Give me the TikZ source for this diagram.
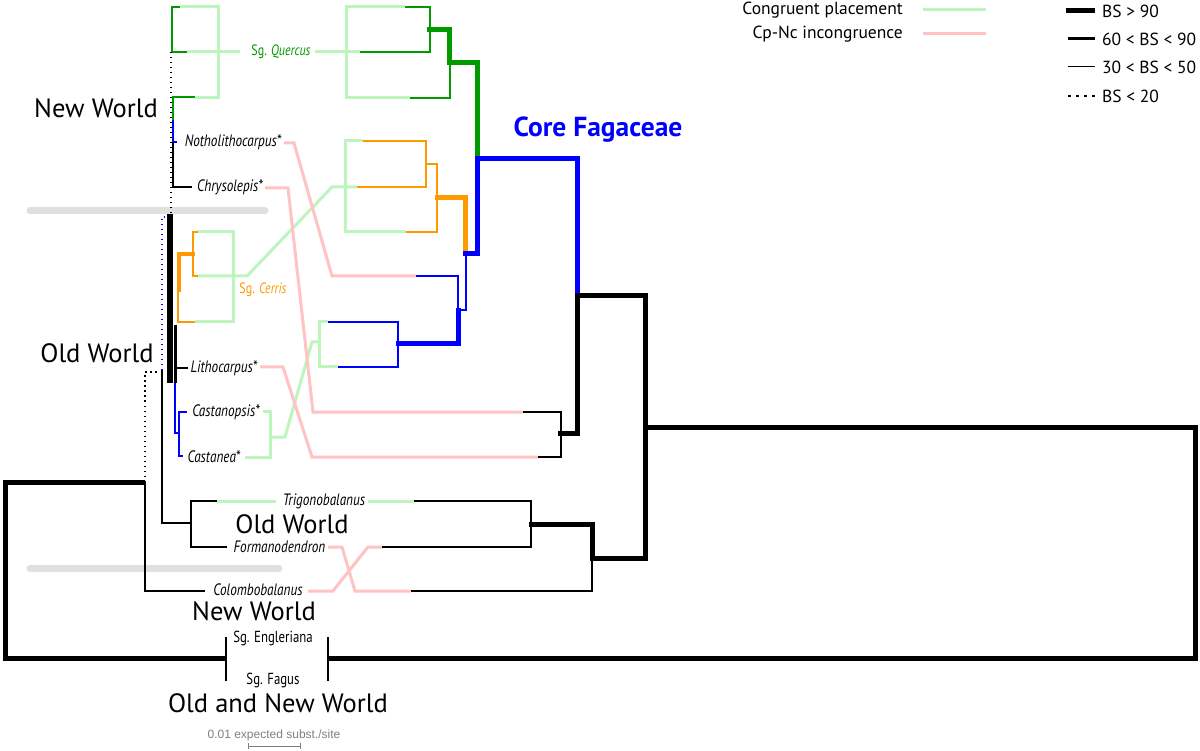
\documentclass[tikz,border=0pt]{standalone}
\usepackage{fontspec}
\setmainfont{PT Sans}
\newfontfamily\cond[FakeStretch=0.8]{PT Sans}
\newfontfamily\arialf{Liberation Sans}
\definecolor{lgreen}{RGB}{190,245,190}
\definecolor{lpink}{RGB}{255,195,195}
\definecolor{dgreen}{RGB}{0,153,0}
\definecolor{orng}{RGB}{255,153,0}
\definecolor{barg}{RGB}{224,224,224}
\begin{document}
\begin{tikzpicture}[x=1pt,y=-1pt,
  lg/.style={lgreen,line width=3},
  pk/.style={lpink,line width=3},
  thn/.style={line width=1.3},
  thk/.style={line width=5},
  bsdot/.style={line width=1.5,dash pattern=on 1.5pt off 3.5pt},
  tax/.style={font=\cond\itshape\fontsize{16.5}{16.5}\selectfont,inner sep=0},
  sg/.style={font=\cond\fontsize{16}{16}\selectfont,inner sep=0},
  sgc/.style={font=\cond\fontsize{15}{15}\selectfont,inner sep=0},
  region/.style={font=\fontsize{26.5}{26.5}\selectfont,inner sep=0},
  leg/.style={font=\fontsize{17.5}{18}\selectfont,inner sep=0}]
\useasboundingbox (0,0) rectangle (1200,751);
\fill[white] (0,0) rectangle (1200,751);

% grey bars
\draw[barg,line width=7,line cap=round] (30,211) -- (265,211);
\draw[barg,line width=7,line cap=round] (30,568) -- (279,568);

% ---------- congruent (green) links ----------
\draw[lg] (180,7) -- (218,7) -- (218,98) -- (195,98);
\draw[lg] (187,52) -- (240,52);
\draw[lg] (315,52) -- (360,52);
\draw[lg] (405,7) -- (346,7) -- (346,98) -- (410,98);
\draw[lg] (197,232) -- (233,232) -- (233,322) -- (195,322);
\draw[lg] (197,276) -- (247,276) -- (332,187) -- (357,187);
\draw[lg] (363,141) -- (345,141) -- (345,232) -- (406,232);
\draw[lg] (263,411) -- (270,411) -- (270,457) -- (245,457);
\draw[lg] (270,437) -- (285,437) -- (312,342) -- (319,342);
\draw[lg] (328,322) -- (319,322) -- (319,367) -- (338,367);
\draw[lg] (217,501) -- (276,501);
\draw[lg] (368,501) -- (414,501);

% ---------- incongruent (pink) links ----------
\draw[pk] (284,143) -- (294,143) -- (332,276) -- (416,276);
\draw[pk] (265,188) -- (288,188) -- (313,412) -- (523,412);
\draw[pk] (260,367) -- (283,367) -- (312,457) -- (538,457);
\draw[pk] (328,547) -- (342,547) -- (355,591) -- (411,591);
\draw[pk] (308,591) -- (333,591) -- (368,547) -- (382,547);

% ---------- left tree ----------
\draw[thn,dgreen] (180,7) -- (172,7) -- (172,52) -- (187,52);
\draw[bsdot] (171,52) -- (171,213);
\draw[thn,dgreen] (195,97) -- (173,97) -- (173,120);
\draw[thn,blue] (173,120) -- (173,142) -- (177,142);
\draw[thn] (173,142) -- (173,187) -- (192,187);
\draw[line width=6] (170,214) -- (170,383);
\draw[line width=3.5] (175.5,325) -- (175.5,383);
\draw[thn] (175,368) -- (188,368);
\draw[orng,line width=4] (195,254) -- (179,254) -- (179,292);
\draw[orng,line width=2.5] (178,288) -- (178,322) -- (195,322);
\draw[orng,thn] (198,232) -- (193,232) -- (193,276) -- (198,276);
\draw[blue,bsdot] (165,217) -- (162,217) -- (162,372);
\draw[bsdot] (145,482) -- (145,372) -- (157,372);
\draw[thn] (162,370) -- (162,523) -- (191,523);
\draw[blue,line width=2] (175,383) -- (175,433) -- (179,433);
\draw[blue,thn] (187,412) -- (179,412) -- (179,456) -- (183,456);
\draw[thn] (217,501) -- (191,501) -- (191,547) -- (227,547);
\draw[thn] (145,482) -- (145,591) -- (205,591);

% ---------- right tree ----------
\draw[thn,dgreen] (405,7) -- (430,7) -- (430,52) -- (360,52);
\draw[thn,dgreen] (410,98) -- (450,98) -- (450,63);
\draw[thk,dgreen] (427,30) -- (449.5,30) -- (449.5,63) -- (477.5,63) -- (477.5,159);
\draw[thn,orng] (363,141) -- (426,141) -- (426,187) -- (357,187);
\draw[thn,orng] (426,164) -- (437,164) -- (437,232) -- (406,232);
\draw[thk,orng] (435,197.5) -- (465,197.5) -- (465,254);
\draw[thk,blue] (577,296) -- (577,159) -- (477.5,159) -- (477.5,254) -- (463,254);
\draw[thn,blue] (466,254) -- (466,310) -- (458,310);
\draw[thn,blue] (416,276) -- (458,276) -- (458,310);
\draw[thk,blue] (396,344) -- (458,344) -- (458,308);
\draw[thn,blue] (328,322) -- (398,322) -- (398,367) -- (338,367);
\draw[thn] (523,412) -- (561,412) -- (561,457) -- (538,457);
\draw[thn] (414,501) -- (531,501) -- (531,547) -- (382,547);
\draw[thn] (411,591) -- (592,591) -- (592,558);
\draw[thk] (558,433) -- (577,433) -- (577,296) -- (645,296) -- (645,558) -- (592,558) -- (592,524) -- (529,524);
\draw[thk] (645,427) -- (1195,427) -- (1195,658) -- (328,658);
\draw[thk] (226,658) -- (5,658) -- (5,482) -- (145,482);
\draw[line width=1.5] (226,637) -- (226,681);
\draw[line width=1.5] (328,637) -- (328,681);

% ---------- labels ----------
\node[sgc,dgreen] (quercus) at (281,52) {Sg. \itshape Quercus};
\node[sgc,orng] (cerris) at (263,290) {Sg. \itshape Cerris};
\node[tax] (notho) at (233,142) {Notholithocarpus*};
\node[tax] (chryso) at (230,187) {Chrysolepis*};
\node[tax] (litho) at (224,368) {Lithocarpus*};
\node[tax] (castanopsis) at (226,412) {Castanopsis*};
\node[tax] (castanea) at (214,457) {Castanea*};
\node[tax] (trigono) at (324,501) {Trigonobalanus};
\node[tax] (formano) at (279.5,547) {Formanodendron};
\node[tax] (colombo) at (258,590) {Colombobalanus};
\node[sg] (engler) at (273,638) {Sg. Engleriana};
\node[sg] (fagus) at (273,680) {Sg. Fagus};
\node[region] (nw1) at (96,108) {New World};
\node[region] (ow1) at (97,353) {Old World};
\node[region] (ow2) at (292,524) {Old World};
\node[region] (nw2) at (254,611) {New World};
\node[region] (onw) at (278,703) {Old and New World};
\node[font=\bfseries\fontsize{27.5}{27.5}\selectfont,blue,inner sep=0] (core) at (598,130) {Core Fagaceae};
\node[font=\arialf\fontsize{12}{12}\selectfont,gray,inner sep=0] (scale) at (274,735) {0.01 expected subst./site};
\draw[gray,line width=1] (248,743) -- (248,749) (248,746) -- (300,746) (300,743) -- (300,749);

% ---------- legend ----------
\node[leg,anchor=east] (lcong) at (903,10) {Congruent placement};
\node[leg,anchor=east] (lincon) at (903,34) {Cp-Nc incongruence};
\draw[lg] (923,10) -- (986,10);
\draw[pk] (923,34) -- (986,34);
\draw[line width=5] (1066,11) -- (1095,11);
\draw[line width=3] (1068,39) -- (1095,39);
\draw[line width=1] (1068,67) -- (1095,67);
\draw[line width=1.5,dash pattern=on 3pt off 5pt] (1068,96) -- (1095,96);
\node[leg,anchor=west] (bs1) at (1102,11) {BS > 90};
\node[leg,anchor=west] (bs2) at (1102,39) {60 < BS < 90};
\node[leg,anchor=west] (bs3) at (1102,67) {30 < BS < 50};
\node[leg,anchor=west] (bs4) at (1102,96) {BS < 20};
\end{tikzpicture}
\end{document}
